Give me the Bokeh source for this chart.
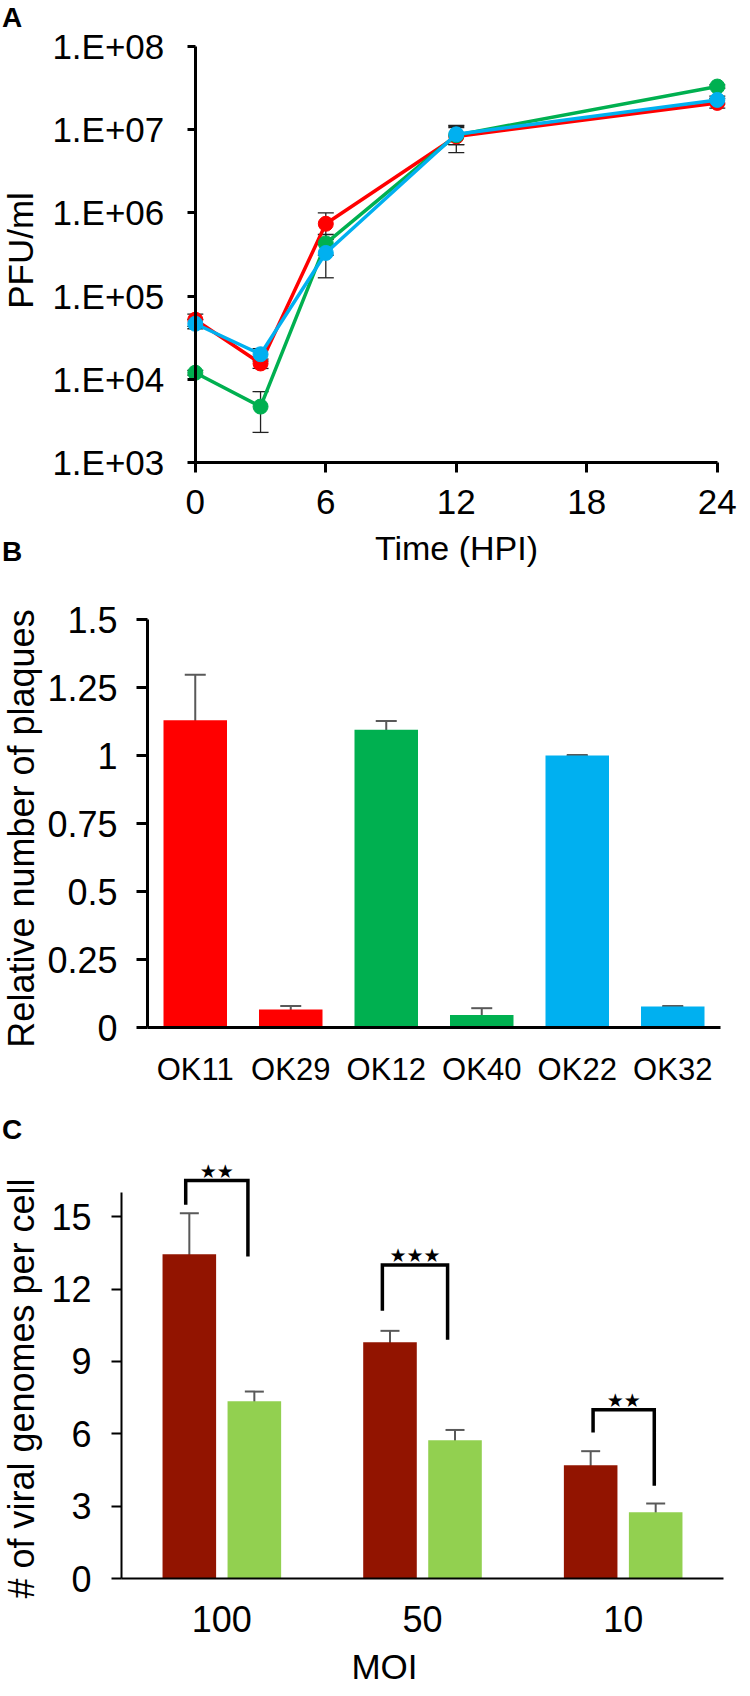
import math
from bokeh.plotting import figure
from bokeh.layouts import column
from bokeh.models import ColumnDataSource, Whisker, TeeHead, FixedTicker, Label, Range1d
from bokeh.core.properties import value
from bokeh.embed import file_html
from bokeh.resources import INLINE

FONT = "Liberation Sans"

# ---------------- Panel A data ----------------
hpi = [0, 3, 6, 12, 24]
pfu_red = [5.2e4, 1.55e4, 7.4e5, 8.3e6, 2.1e7]
pfu_red_err = [8.7e3, 2.0e3, 2.6e5, 3.0e6, 2.8e6]
pfu_green = [1.2e4, 4.7e3, 4.3e5, 8.6e6, 3.3e7]
pfu_green_err = [8.0e2, 2.4e3, 1.2e5, 2.0e6, 1.5e6]
pfu_blue = [4.65e4, 2.0e4, 3.3e5, 8.8e6, 2.28e7]
pfu_blue_err = [6.0e3, 3.4e3, 1.64e5, 2.2e6, 2.5e6]
a_colors = ["#FF0000", "#00B050", "#00B0F0"]
a_xticks = [0, 6, 12, 18, 24]
a_yticks = [1000, 10000, 100000, 1000000, 10000000, 100000000]
a_ylabels = ["1.E+03", "1.E+04", "1.E+05", "1.E+06", "1.E+07", "1.E+08"]

# ---------------- Panel B data ----------------
strains = ["OK11", "OK29", "OK12", "OK40", "OK22", "OK32"]
plaques = [1.13, 0.066, 1.095, 0.046, 1.0, 0.077]
plaques_err = [0.167, 0.013, 0.032, 0.025, 0.002, 0.002]
b_colors = ["#FF0000", "#FF0000", "#00B050", "#00B050", "#00B0F0", "#00B0F0"]
b_yticks = [0, 0.25, 0.5, 0.75, 1, 1.25, 1.5]
b_ylabels = ["0", "0.25", "0.5", "0.75", "1", "1.25", "1.5"]

# ---------------- Panel C data ----------------
moi = ["100", "50", "10"]
genomes_1 = [13.45, 9.80, 4.70]
genomes_1_err = [1.70, 0.47, 0.58]
genomes_2 = [7.35, 5.73, 2.75]
genomes_2_err = [0.40, 0.43, 0.36]
c_colors = ["#921400", "#92D050"]
c_yticks = [0, 3, 6, 9, 12, 15]
sig_stars = ["\u2605\u2605", "\u2605\u2605\u2605", "\u2605\u2605"]
bracket_top = [16.5, 13.0, 7.0]
bracket_left_end = [15.5, 11.1, 6.05]
bracket_right_end = [13.35, 9.9, 3.85]
bracket_left_x = [0.32, 1.30, 2.35]
bracket_right_x = [0.63, 1.625, 2.655]

W = 742


def style_axis(ax, lw, tick_out, standoff, size):
    ax.axis_line_width = lw
    ax.axis_line_color = "black"
    ax.major_tick_line_width = lw
    ax.major_tick_line_color = "black" if tick_out > 0 else None
    ax.major_tick_out = tick_out
    ax.major_tick_in = 0
    ax.minor_tick_line_color = None
    ax.major_label_text_font = FONT
    ax.major_label_text_font_size = f"{size}px"
    ax.major_label_text_color = "black"
    ax.major_label_standoff = standoff


def base_fig(h, xr, yr, **kw):
    p = figure(width=W, height=h, x_range=xr, y_range=yr, title=None,
               output_backend="svg", toolbar_location=None,
               min_border=0, min_border_left=0, min_border_right=0,
               min_border_top=0, min_border_bottom=0, **kw)
    p.xgrid.visible = False
    p.ygrid.visible = False
    p.outline_line_color = None
    p.background_fill_color = "white"
    p.border_fill_color = "white"
    return p


def add_label(p, x, y, text, size, bold=False, angle=0.0):
    p.add_layout(Label(x=x, y=y, text=text, angle=angle,
                       text_font=FONT, text_font_size=f"{size}px",
                       text_font_style="bold" if bold else "normal",
                       text_align="center", text_baseline="middle",
                       text_color="black"))


# ================= Panel A =================
# pixel layout of the figure: x=0 at 194.8 px, 21.75 px per hour;
# 1e3 at 462 px, 1e8 at 46 px (from top)
HA = 600
A_X0, A_XS = 194.8, 21.75
A_Y3, A_DEC = 462.0, 83.2
pA = base_fig(HA, Range1d(-A_X0 / A_XS, (W - A_X0) / A_XS),
              Range1d(10 ** (3 - (HA - A_Y3) / A_DEC), 10 ** (3 + A_Y3 / A_DEC)),
              y_axis_type="log")
style_axis(pA.xaxis[0], 3, 10, 17, 35)
style_axis(pA.yaxis[0], 3, 8, 23, 35)
pA.xaxis.fixed_location = 1000
pA.yaxis.fixed_location = 0
pA.xaxis.bounds = (0, 24)
pA.yaxis.bounds = (1000, 100000000)
pA.xaxis.ticker = FixedTicker(ticks=a_xticks)
pA.yaxis.ticker = FixedTicker(ticks=a_yticks)
pA.yaxis.major_label_overrides = dict(zip(a_yticks, a_ylabels))
pA.xaxis.axis_label = "Time (HPI)"
pA.xaxis.axis_label_text_font = FONT
pA.xaxis.axis_label_text_font_size = "34px"
pA.xaxis.axis_label_text_font_style = "normal"
pA.xaxis.axis_label_text_color = "black"
pA.xaxis.axis_label_standoff = 12

for vals, errs, col in zip([pfu_red, pfu_green, pfu_blue],
                           [pfu_red_err, pfu_green_err, pfu_blue_err], a_colors):
    src = ColumnDataSource(dict(t=hpi, v=vals,
                                lo=[v - e for v, e in zip(vals, errs)],
                                hi=[v + e for v, e in zip(vals, errs)]))
    pA.line("t", "v", source=src, line_color=col, line_width=3.5)
    pA.add_layout(Whisker(source=src, base="t", lower="lo", upper="hi",
                          dimension="height", line_color="#222222", line_width=1.3,
                          upper_head=TeeHead(size=16, line_color="#222222", line_width=1.3),
                          lower_head=TeeHead(size=16, line_color="#222222", line_width=1.3)))
    pA.scatter("t", "v", source=src, size=15, fill_color=col, line_color=col)


def ax_(cx):
    return (cx - A_X0) / A_XS


def ay_(cy):
    return 10 ** (3 + (A_Y3 - cy) / A_DEC)


add_label(pA, ax_(11.5), ay_(17), "A", 28, bold=True)
add_label(pA, ax_(19.5), ay_(250), "PFU/ml", 35, angle=math.pi / 2)
add_label(pA, ax_(11.5), ay_(551), "B", 28, bold=True)

# ================= Panel B =================
HB = 500
B_X0, B_XS = 147.0, 95.5
B_Y0, B_YS = 427.0, 272.0
pB = base_fig(HB, Range1d(-B_X0 / B_XS, (W - B_X0) / B_XS),
              Range1d(-(HB - B_Y0) / B_YS, B_Y0 / B_YS))
style_axis(pB.xaxis[0], 3, 0, 24, 31)
style_axis(pB.yaxis[0], 3, 11, 19, 36)
pB.xaxis.fixed_location = 0
pB.yaxis.fixed_location = 0
pB.xaxis.bounds = (0, 6)
pB.yaxis.bounds = (0, 1.5)
b_x = [i + 0.5 for i in range(len(strains))]
pB.xaxis.ticker = FixedTicker(ticks=b_x)
pB.xaxis.major_label_overrides = dict(zip(b_x, strains))
pB.yaxis.ticker = FixedTicker(ticks=b_yticks)
pB.yaxis.major_label_overrides = dict(zip(b_yticks, b_ylabels))
srcB = ColumnDataSource(dict(x=b_x, top=plaques, color=b_colors,
                             lo=[v - e for v, e in zip(plaques, plaques_err)],
                             hi=[v + e for v, e in zip(plaques, plaques_err)]))
pB.vbar(x="x", top="top", bottom=0, width=0.665, source=srcB,
        fill_color="color", line_color=None)
pB.add_layout(Whisker(source=srcB, base="x", lower="lo", upper="hi",
                      dimension="height", line_color="#595959", line_width=2,
                      upper_head=TeeHead(size=21, line_color="#595959", line_width=2),
                      lower_head=TeeHead(size=21, line_color="#595959", line_width=2)))


def bx_(cx):
    return (cx - B_X0) / B_XS


def by_(cy):
    return (B_Y0 - cy) / B_YS


add_label(pB, bx_(20.5), by_(228), "Relative number of plaques", 36, angle=math.pi / 2)

# ================= Panel C =================
HC = 588
C_X0, C_XS = 121.0, 200.67
C_Y0, C_YS = 478.0, 24.114
pC = base_fig(HC, Range1d(-C_X0 / C_XS, (W - C_X0) / C_XS),
              Range1d(-(HC - C_Y0) / C_YS, C_Y0 / C_YS))
style_axis(pC.xaxis[0], 2, 0, 27, 36)
style_axis(pC.yaxis[0], 2, 10, 20, 36)
pC.xaxis.fixed_location = 0
pC.yaxis.fixed_location = 0
pC.xaxis.bounds = (0, 3)
pC.yaxis.bounds = (0, 16)
c_x = [i + 0.5 for i in range(len(moi))]
pC.xaxis.ticker = FixedTicker(ticks=c_x)
pC.xaxis.major_label_overrides = dict(zip(c_x, moi))
pC.yaxis.ticker = FixedTicker(ticks=c_yticks)

for vals, errs, col, off in zip([genomes_1, genomes_2], [genomes_1_err, genomes_2_err],
                                c_colors, [-0.162, 0.162]):
    xs = [x + off for x in c_x]
    src = ColumnDataSource(dict(x=xs, top=vals,
                                lo=[v - e for v, e in zip(vals, errs)],
                                hi=[v + e for v, e in zip(vals, errs)]))
    pC.vbar(x="x", top="top", bottom=0, width=0.267, source=src,
            fill_color=col, line_color=None)
    pC.add_layout(Whisker(source=src, base="x", lower="lo", upper="hi",
                          dimension="height", line_color="#595959", line_width=2,
                          upper_head=TeeHead(size=19, line_color="#595959", line_width=2),
                          lower_head=TeeHead(size=19, line_color="#595959", line_width=2)))

pC.multi_line(xs=[[l, l, r, r] for l, r in zip(bracket_left_x, bracket_right_x)],
              ys=[[lb, t, t, rb] for lb, t, rb in zip(bracket_left_end, bracket_top, bracket_right_end)],
              line_color="black", line_width=3.5, line_join="miter")
pC.text(x=[(l + r) / 2 for l, r in zip(bracket_left_x, bracket_right_x)],
        y=[t + 0.4 for t in bracket_top], text=sig_stars,
        text_align="center", text_baseline="middle",
        text_font=value("DejaVu Sans"), text_font_size="19px", text_color="black")


def cx_(cx):
    return (cx - C_X0) / C_XS


def cy_(cy):
    return (C_Y0 - cy) / C_YS


add_label(pC, cx_(11.5), cy_(28.9), "C", 28, bold=True)
add_label(pC, cx_(20.5), cy_(288), "# of viral genomes per cell", 36, angle=math.pi / 2)
add_label(pC, cx_(384), cy_(566), "MOI", 35)

layout = column(pA, pB, pC, spacing=0)
open("out.html", "w").write(file_html(layout, INLINE))
